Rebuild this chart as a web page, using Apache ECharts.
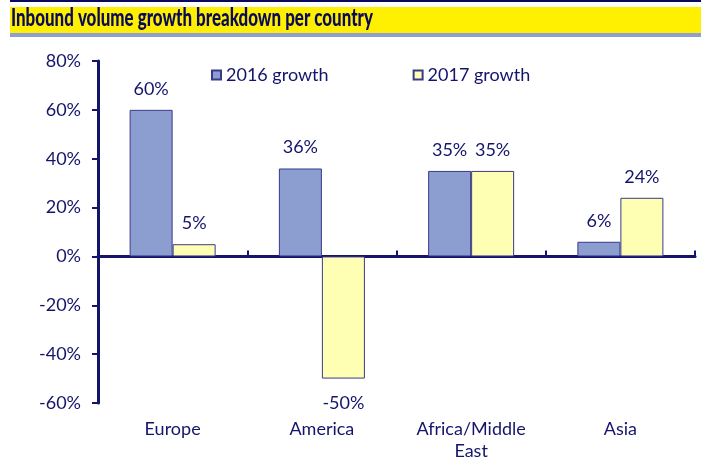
<!DOCTYPE html>
<html><head><meta charset="utf-8">
<script src="https://cdn.jsdelivr.net/npm/echarts@6/dist/echarts.min.js"></script>
<style>html,body{margin:0;padding:0;background:#fff}#c{width:701px;height:466px}</style>
</head><body><div id="c"></div>
<script>
const categories = ['Europe', 'America', 'Africa/Middle\nEast', 'Asia'];
const growth2016 = [60, 36, 35, 6];
const growth2017 = [5, -50, 35, 24];
const seriesNames = ['2016 growth', '2017 growth'];
const yTicks = { min: -60, max: 80, interval: 20 };
const titleText = 'Inbound volume growth breakdown per country';

const navy = '#14146b';
const font = 'Lato';
function labelCfg(v) {
  return v < 0 ? { position: 'bottom', distance: 16 } : { position: 'top', distance: 12 };
}
function mk(arr) { return arr.map(v => ({ value: v, label: labelCfg(v) })); }

const chart = echarts.init(document.getElementById('c'), null, { renderer: 'canvas' });
chart.setOption({
  animation: false,
  textStyle: { fontFamily: font },
  graphic: [
    { type: 'rect', shape: { x: 10, y: 0, width: 691, height: 2 }, style: { fill: '#0a0a5a' } },
    { type: 'rect', shape: { x: 10, y: 7, width: 691, height: 26 }, style: { fill: '#FFEF00' } },
    { type: 'rect', shape: { x: 10, y: 33, width: 691, height: 4 }, style: { fill: '#8E9FD0' } },
    { type: 'text', left: 11, top: 5, scaleX: 0.72, scaleY: 1.05,
      style: { text: titleText, fill: '#0a0a5a', font: '900 23.5px Lato' } }
  ],
  legend: {
    left: 206, top: 61, itemWidth: 9, itemHeight: 9, itemGap: 84, icon: 'rect',
    textStyle: { color: navy, fontSize: 18, fontFamily: font },
    data: seriesNames
  },
  grid: { left: 98, right: 6, top: 61, bottom: 63 },
  xAxis: [
    { type: 'category', data: categories, position: 'bottom',
      axisLine: { show: false, onZero: false }, axisTick: { show: false },
      axisLabel: { color: navy, fontSize: 18, margin: 15, lineHeight: 22, fontFamily: font } },
    { type: 'category', data: categories,
      axisLine: { show: true, onZero: true, lineStyle: { color: navy, width: 3 } },
      axisTick: { show: true, length: 6, lineStyle: { color: navy, width: 2 } },
      axisLabel: { show: false } }
  ],
  yAxis: {
    type: 'value', min: yTicks.min, max: yTicks.max, interval: yTicks.interval,
    axisLine: { show: true, lineStyle: { color: navy, width: 3 } },
    axisTick: { show: true, length: 6, lineStyle: { color: navy, width: 2 } },
    splitLine: { show: false },
    axisLabel: { color: navy, fontSize: 18, margin: 17, formatter: '{value}%', fontFamily: font }
  },
  series: [
    { name: seriesNames[0], type: 'bar', data: mk(growth2016), barWidth: 43, barGap: '0%',
      itemStyle: { color: '#8C9ED0', borderColor: '#3a3a8a', borderWidth: 1 },
      label: { show: true, color: navy, fontSize: 18, fontFamily: font, formatter: '{c}%' } },
    { name: seriesNames[1], type: 'bar', data: mk(growth2017), barWidth: 43, barGap: '0%',
      itemStyle: { color: '#FFFFB3', borderColor: '#3a3a8a', borderWidth: 1 },
      label: { show: true, color: navy, fontSize: 18, fontFamily: font, formatter: '{c}%' } }
  ]
});
</script></body></html>
